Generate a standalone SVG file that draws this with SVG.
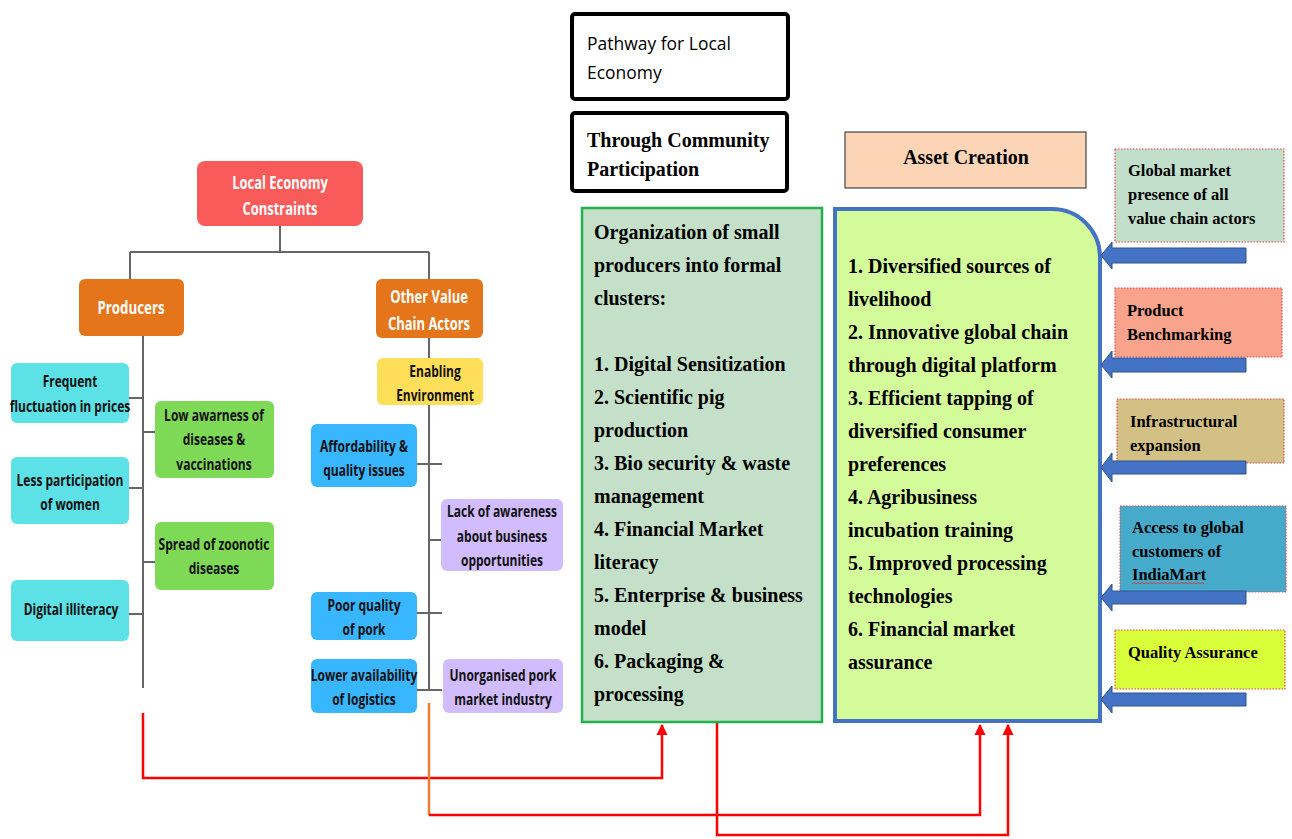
<svg xmlns="http://www.w3.org/2000/svg" width="1292" height="839" viewBox="0 0 1292 839">
<defs>
<style>
.t{font-family:"Open Sans","DejaVu Sans",sans-serif;font-weight:700;font-size:16px;text-anchor:middle;fill:#111}
.tw{font-family:"Open Sans","DejaVu Sans",sans-serif;font-weight:700;font-size:18px;text-anchor:middle;fill:#fff}
.tm{font-family:"Liberation Serif","Times New Roman",serif;font-weight:700;font-size:20px;fill:#000}
.ts{font-family:"Liberation Serif","Times New Roman",serif;font-weight:700;font-size:16.5px;fill:#000}
.tree{stroke:#666;stroke-width:2;fill:none}
.red{stroke:#FF0000;stroke-width:2.5;fill:none}
.side{stroke:#E8484A;stroke-width:1.2;stroke-dasharray:1.5 1.5}
.barrow{fill:#4472C4;stroke:#2F528F;stroke-width:1}
</style>
<marker id="ah" viewBox="0 0 10 10" refX="9" refY="5" markerWidth="4.5" markerHeight="4.5" orient="auto" markerUnits="strokeWidth">
<path d="M0,0 L10,5 L0,10 z" fill="#FF0000"/>
</marker>
</defs>
<rect width="1292" height="839" fill="#fff"/>

<g id="tree-connectors">
<path class="tree" d="M280,226 V252 M130,252 H429 M130,252 V279 M429,252 V279"/>
<path class="tree" d="M143,336 V688 M129,398 H143 M143,432 H155 M129,488 H143 M143,562 H155 M129,614 H143"/>
<path class="tree" d="M429,338 V690 M417,464 H442 M429,540 H441 M417,613 H442 M417,690 H442"/>
</g>

<g id="flow-connectors">
<path class="red" d="M143,713 V778 H662 V725" marker-end="url(#ah)"/>
<path d="M429,703 V815" stroke="#ED7D31" stroke-width="2.5" fill="none"/>
<path class="red" d="M429,815 H980 V725" marker-end="url(#ah)"/>
<path class="red" d="M717,722 V835 H1008 V725" marker-end="url(#ah)"/>
</g>

<g id="local-economy-constraints">
<rect x="197" y="161" width="166" height="65" rx="8" fill="#F95A5A"/>
<text class="tw" transform="translate(280,189) scale(0.72,1)">Local Economy</text>
<text class="tw" transform="translate(280,215) scale(0.72,1)">Constraints</text>
</g>

<g id="producers">
<rect x="79" y="279" width="105" height="57" rx="6" fill="#E5751A"/>
<text class="tw" transform="translate(131,314) scale(0.74,1)">Producers</text>
</g>

<g id="other-value-chain-actors">
<rect x="376" y="279" width="107" height="59" rx="6" fill="#E5751A"/>
<text class="tw" transform="translate(429,303) scale(0.72,1)">Other Value</text>
<text class="tw" transform="translate(429,330) scale(0.72,1)">Chain Actors</text>
</g>

<g id="enabling-environment">
<rect x="377" y="358" width="106" height="47" rx="6" fill="#FFDE59"/>
<text class="t" transform="translate(435,377) scale(0.75,1)">Enabling</text>
<text class="t" transform="translate(435,401) scale(0.75,1)">Environment</text>
</g>

<g id="frequent-fluctuation">
<rect x="11" y="363" width="118" height="60" rx="6" fill="#5CE1E6"/>
<text class="t" transform="translate(70,387) scale(0.75,1)">Frequent</text>
<text class="t" transform="translate(70,412) scale(0.75,1)">fluctuation in prices</text>
</g>

<g id="low-awareness">
<rect x="155" y="401" width="119" height="77" rx="6" fill="#7ED957"/>
<text class="t" transform="translate(214,421) scale(0.75,1)">Low awarness of</text>
<text class="t" transform="translate(214,445) scale(0.75,1)">diseases &amp;</text>
<text class="t" transform="translate(214,470) scale(0.75,1)">vaccinations</text>
</g>

<g id="less-participation">
<rect x="11" y="457" width="118" height="67" rx="6" fill="#5CE1E6"/>
<text class="t" transform="translate(70,486) scale(0.75,1)">Less participation</text>
<text class="t" transform="translate(70,510) scale(0.75,1)">of women</text>
</g>

<g id="spread-zoonotic">
<rect x="155" y="522" width="119" height="68" rx="6" fill="#7ED957"/>
<text class="t" transform="translate(214,550) scale(0.75,1)">Spread of zoonotic</text>
<text class="t" transform="translate(214,574) scale(0.75,1)">diseases</text>
</g>

<g id="digital-illiteracy">
<rect x="11" y="580" width="118" height="61" rx="6" fill="#5CE1E6"/>
<text class="t" transform="translate(71,615) scale(0.75,1)">Digital illiteracy</text>
</g>

<g id="affordability">
<rect x="311" y="424" width="106" height="63" rx="6" fill="#38B6FF"/>
<text class="t" transform="translate(364,452) scale(0.75,1)">Affordability &amp;</text>
<text class="t" transform="translate(364,476) scale(0.75,1)">quality issues</text>
</g>

<g id="lack-of-awareness">
<rect x="441" y="499" width="122" height="72" rx="6" fill="#D0BCFF"/>
<text class="t" transform="translate(502,517) scale(0.75,1)">Lack of awareness</text>
<text class="t" transform="translate(502,542) scale(0.75,1)">about business</text>
<text class="t" transform="translate(502,566) scale(0.75,1)">opportunities</text>
</g>

<g id="poor-quality">
<rect x="311" y="592" width="106" height="48" rx="6" fill="#38B6FF"/>
<text class="t" transform="translate(364,611) scale(0.75,1)">Poor quality</text>
<text class="t" transform="translate(364,635) scale(0.75,1)">of pork</text>
</g>

<g id="lower-availability">
<rect x="311" y="659" width="106" height="54" rx="6" fill="#38B6FF"/>
<text class="t" transform="translate(364,681) scale(0.75,1)">Lower availability</text>
<text class="t" transform="translate(364,705) scale(0.75,1)">of logistics</text>
</g>

<g id="unorganised">
<rect x="443" y="659" width="120" height="54" rx="6" fill="#D0BCFF"/>
<text class="t" transform="translate(503,681) scale(0.75,1)">Unorganised pork</text>
<text class="t" transform="translate(503,705) scale(0.75,1)">market industry</text>
</g>

<g id="pathway">
<rect x="572" y="14" width="216" height="85" rx="3" fill="#fff" stroke="#000" stroke-width="4"/>
<text transform="translate(587,50) scale(0.92,1)" font-family="Open Sans, DejaVu Sans, sans-serif" font-size="19" fill="#000">Pathway for Local</text>
<text transform="translate(587,79) scale(0.92,1)" font-family="Open Sans, DejaVu Sans, sans-serif" font-size="19" fill="#000">Economy</text>
</g>

<g id="community-participation">
<rect x="572" y="113" width="215" height="78" rx="3" fill="#fff" stroke="#000" stroke-width="4"/>
<text class="tm" x="587" y="147">Through Community</text>
<text class="tm" x="587" y="176">Participation</text>
</g>

<g id="asset-creation">
<rect x="845" y="132" width="241" height="56" fill="#FBD5B5" stroke="#444" stroke-width="1.2"/>
<text class="tm" x="966" y="164" text-anchor="middle">Asset Creation</text>
</g>

<g id="organization-box">
<rect x="582" y="208" width="240" height="514" fill="#C4E0C8" stroke="#22B14C" stroke-width="2.5"/>
<text class="tm" x="594" y="239">Organization of small</text>
<text class="tm" x="594" y="272">producers into formal</text>
<text class="tm" x="594" y="305">clusters:</text>
<text class="tm" x="594" y="371">1. Digital Sensitization</text>
<text class="tm" x="594" y="404">2. Scientific pig</text>
<text class="tm" x="594" y="437">production</text>
<text class="tm" x="594" y="470">3. Bio security &amp; waste</text>
<text class="tm" x="594" y="503">management</text>
<text class="tm" x="594" y="536">4. Financial Market</text>
<text class="tm" x="594" y="569">literacy</text>
<text class="tm" x="594" y="602">5. Enterprise &amp; business</text>
<text class="tm" x="594" y="635">model</text>
<text class="tm" x="594" y="668">6. Packaging &amp;</text>
<text class="tm" x="594" y="701">processing</text>
</g>

<g id="asset-box">
<path d="M835,209 H1052 A48,48 0 0 1 1100,257 V721 H835 Z" fill="#D4FB9A" stroke="#4472C4" stroke-width="4"/>
<text class="tm" x="848" y="273">1. Diversified sources of</text>
<text class="tm" x="848" y="306">livelihood</text>
<text class="tm" x="848" y="339">2. Innovative global chain</text>
<text class="tm" x="848" y="372">through digital platform</text>
<text class="tm" x="848" y="405">3. Efficient tapping of</text>
<text class="tm" x="848" y="438">diversified consumer</text>
<text class="tm" x="848" y="471">preferences</text>
<text class="tm" x="848" y="504">4. Agribusiness</text>
<text class="tm" x="848" y="537">incubation training</text>
<text class="tm" x="848" y="570">5. Improved processing</text>
<text class="tm" x="848" y="603">technologies</text>
<text class="tm" x="848" y="636">6. Financial market</text>
<text class="tm" x="848" y="669">assurance</text>
</g>

<g id="global-market">
<rect x="1115" y="149" width="169" height="93" fill="#C2DFCB" class="side"/>
<text class="ts" x="1128" y="176">Global market</text>
<text class="ts" x="1128" y="200">presence of all</text>
<text class="ts" x="1128" y="224">value chain actors</text>
</g>

<g id="product-benchmarking">
<rect x="1115" y="288" width="167" height="69" fill="#F9A38C" class="side"/>
<text class="ts" x="1127" y="316">Product</text>
<text class="ts" x="1127" y="340">Benchmarking</text>
</g>

<g id="infrastructural-expansion">
<rect x="1117" y="399" width="167" height="64" fill="#D2C084" class="side"/>
<text class="ts" x="1130" y="427">Infrastructural</text>
<text class="ts" x="1130" y="451">expansion</text>
</g>

<g id="access-indiamart">
<rect x="1120" y="506" width="166" height="86" fill="#46ABCB" class="side"/>
<text class="ts" x="1132" y="533">Access to global</text>
<text class="ts" x="1132" y="557">customers of</text>
<text class="ts" x="1132" y="580">IndiaMart</text>
<path d="M1132,584 l2,-1.5 l2,1.5 l2,-1.5 l2,1.5 l2,-1.5 l2,1.5 l2,-1.5 l2,1.5 l2,-1.5 l2,1.5 l2,-1.5 l2,1.5 l2,-1.5 l2,1.5 l2,-1.5 l2,1.5 l2,-1.5 l2,1.5 l2,-1.5 l2,1.5 l2,-1.5 l2,1.5 l2,-1.5 l2,1.5 l2,-1.5 l2,1.5 l2,-1.5 l2,1.5 l2,-1.5 l2,1.5 l2,-1.5 l2,1.5 l2,-1.5 l2,1.5 l2,-1.5 l2,1.5" fill="none" stroke="#D33" stroke-width="0.9"/>
</g>

<g id="quality-assurance">
<rect x="1115" y="630" width="170" height="59" fill="#D9FE3A" class="side"/>
<text class="ts" x="1128" y="658">Quality Assurance</text>
</g>

<g id="input-arrows">
<path class="barrow" d="M1246,248 V263 H1112 V269 L1101,255.5 L1112,242 V248 Z"/>
<path class="barrow" d="M1246,358 V372 H1112 V378 L1101,365 L1112,351 V358 Z"/>
<path class="barrow" d="M1246,461 V474 H1112 V482 L1101,467.5 L1112,453 V461 Z"/>
<path class="barrow" d="M1246,591 V604 H1112 V611 L1101,597.5 L1112,584 V591 Z"/>
<path class="barrow" d="M1246,693 V706 H1112 V713 L1101,699.5 L1112,686 V693 Z"/>
</g>
</svg>
